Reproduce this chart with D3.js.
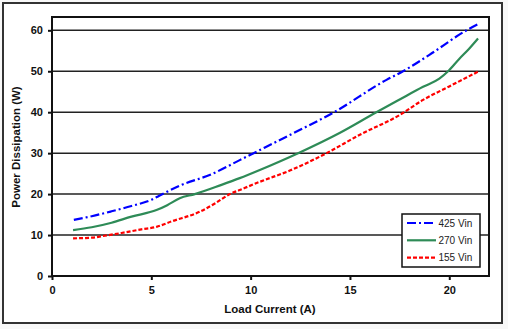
<!DOCTYPE html>
<html>
<head>
<meta charset="utf-8">
<script src="https://cdn.jsdelivr.net/npm/d3@7"></script>
<style>
  html, body { margin: 0; padding: 0; background: #ffffff; }
  svg { display: block; }
</style>
</head>
<body>
<svg id="chart" width="508" height="329"></svg>
<script>
// Power dissipation vs load current for three input voltages
const xTicks = [0, 5, 10, 15, 20];
const yTicks = [0, 10, 20, 30, 40, 50, 60];

const current425 = [1.1, 2, 3, 4, 5, 5.4, 6.5, 8, 9.45, 10.15, 12, 14.2, 16.84, 17.67, 19, 20.87, 21.45];
const power425   = [13.7, 14.6, 15.8, 17.1, 18.6, 19.6, 22.2, 24.8, 28.3, 30, 34.5, 40, 47.9, 50, 54, 60, 61.5];

const current270 = [1.06, 2, 3, 4, 5.26, 5.8, 6.43, 7.19, 8.5, 9.45, 10.46, 12.39, 14.5, 16.33, 17.5, 18.68, 19.5, 19.94, 20.5, 21, 21.45];
const power270   = [11.2, 11.9, 13.0, 14.5, 16.1, 17.3, 19.0, 20, 22.2, 23.9, 25.9, 30, 35, 40, 43.1, 46.2, 48.2, 50, 53, 55.5, 58];

const current155 = [1.06, 2, 2.57, 3.5, 4.5, 5.26, 6, 7.44, 8.2, 8.95, 9.45, 10.46, 12, 13.82, 15.5, 17.5, 18.68, 20, 21.45];
const power155   = [9.2, 9.35, 9.77, 10.5, 11.4, 12.0, 13.3, 15.7, 17.7, 20, 21.0, 23.0, 25.8, 30, 34.5, 39.3, 43.0, 46.3, 49.9];

const seriesNames  = ["425 Vin", "270 Vin", "155 Vin"];
const seriesColors = ["#0000ff", "#2e8b57", "#ff0000"];
const seriesDash   = ["9,3,2,3", null, "4,2"];

const series = [
  { name: seriesNames[0], xs: current425, ys: power425 },
  { name: seriesNames[1], xs: current270, ys: power270 },
  { name: seriesNames[2], xs: current155, ys: power155 }
];

const svg = d3.select("#chart");
const W = 508, H = 329;
const plot = { left: 52, top: 17, right: 489, bottom: 276 };

// light surround and framed chart panel
svg.append("rect").attr("x", 0).attr("y", 0).attr("width", W).attr("height", H).attr("fill", "#f8f8f8");
svg.append("rect").attr("x", 3).attr("y", 3).attr("width", 499).attr("height", 320)
  .attr("fill", "#ffffff").attr("stroke", "#333333").attr("stroke-width", 2);

const x = d3.scaleLinear().domain([0, 22]).range([plot.left, plot.right]);
const y = d3.scaleLinear().domain([0, 63.25]).range([plot.bottom, plot.top]);

const font = "Liberation Sans, Arial, sans-serif";

// horizontal gridlines
svg.append("g").selectAll("line").data(yTicks.filter(d => d > 0)).join("line")
  .attr("x1", plot.left).attr("x2", plot.right)
  .attr("y1", d => y(d)).attr("y2", d => y(d))
  .attr("stroke", "#222222").attr("stroke-width", 1.5);

// axes
const yAxis = d3.axisLeft(y).tickValues(yTicks).tickSize(4).tickSizeOuter(0).tickPadding(5);
const xAxis = d3.axisBottom(x).tickValues(xTicks).tickSize(4).tickSizeOuter(0).tickPadding(6);

const gy = svg.append("g").attr("transform", `translate(${plot.left},0)`).call(yAxis);
const gx = svg.append("g").attr("transform", `translate(0,${plot.bottom})`).call(xAxis);
[gx, gy].forEach(g => {
  g.select(".domain").remove();
  g.selectAll(".tick line").attr("stroke", "#111").attr("stroke-width", 2);
  g.selectAll(".tick text").attr("fill", "#111").attr("font-family", font)
    .attr("font-size", 11).attr("font-weight", "bold");
});

// plot border
svg.append("rect").attr("x", plot.left).attr("y", plot.top)
  .attr("width", plot.right - plot.left).attr("height", plot.bottom - plot.top)
  .attr("fill", "none").attr("stroke", "#111").attr("stroke-width", 2);

// series lines
const line = d3.line().x(d => x(d[0])).y(d => y(d[1])).curve(d3.curveMonotoneX);
series.forEach((s, i) => {
  const pts = s.xs.map((v, k) => [v, s.ys[k]]);
  svg.append("path").datum(pts)
    .attr("d", line)
    .attr("fill", "none")
    .attr("stroke", seriesColors[i])
    .attr("stroke-width", 2.2)
    .attr("stroke-dasharray", seriesDash[i]);
});

// axis titles
svg.append("text").attr("x", 270).attr("y", 313).attr("text-anchor", "middle")
  .attr("font-family", font).attr("font-size", 11.5).attr("font-weight", "bold").attr("fill", "#111")
  .text("Load Current (A)");
svg.append("text").attr("transform", `translate(20,147) rotate(-90)`).attr("text-anchor", "middle")
  .attr("font-family", font).attr("font-size", 11.5).attr("font-weight", "bold").attr("fill", "#111")
  .text("Power Dissipation (W)");

// legend
const lg = svg.append("g").attr("transform", "translate(402,214)");
lg.append("rect").attr("x", 0).attr("y", 0).attr("width", 78).attr("height", 53)
  .attr("fill", "#ffffff").attr("stroke", "#111").attr("stroke-width", 1.5);
series.forEach((s, i) => {
  const yy = 9 + i * 17.3;
  lg.append("line").attr("x1", 5).attr("x2", 34).attr("y1", yy).attr("y2", yy)
    .attr("stroke", seriesColors[i]).attr("stroke-width", 2.2)
    .attr("stroke-dasharray", seriesDash[i]);
  lg.append("text").attr("x", 36.5).attr("y", yy + 3.5)
    .attr("font-family", font).attr("font-size", 10).attr("fill", "#222")
    .text(s.name);
});
</script>
</body>
</html>
